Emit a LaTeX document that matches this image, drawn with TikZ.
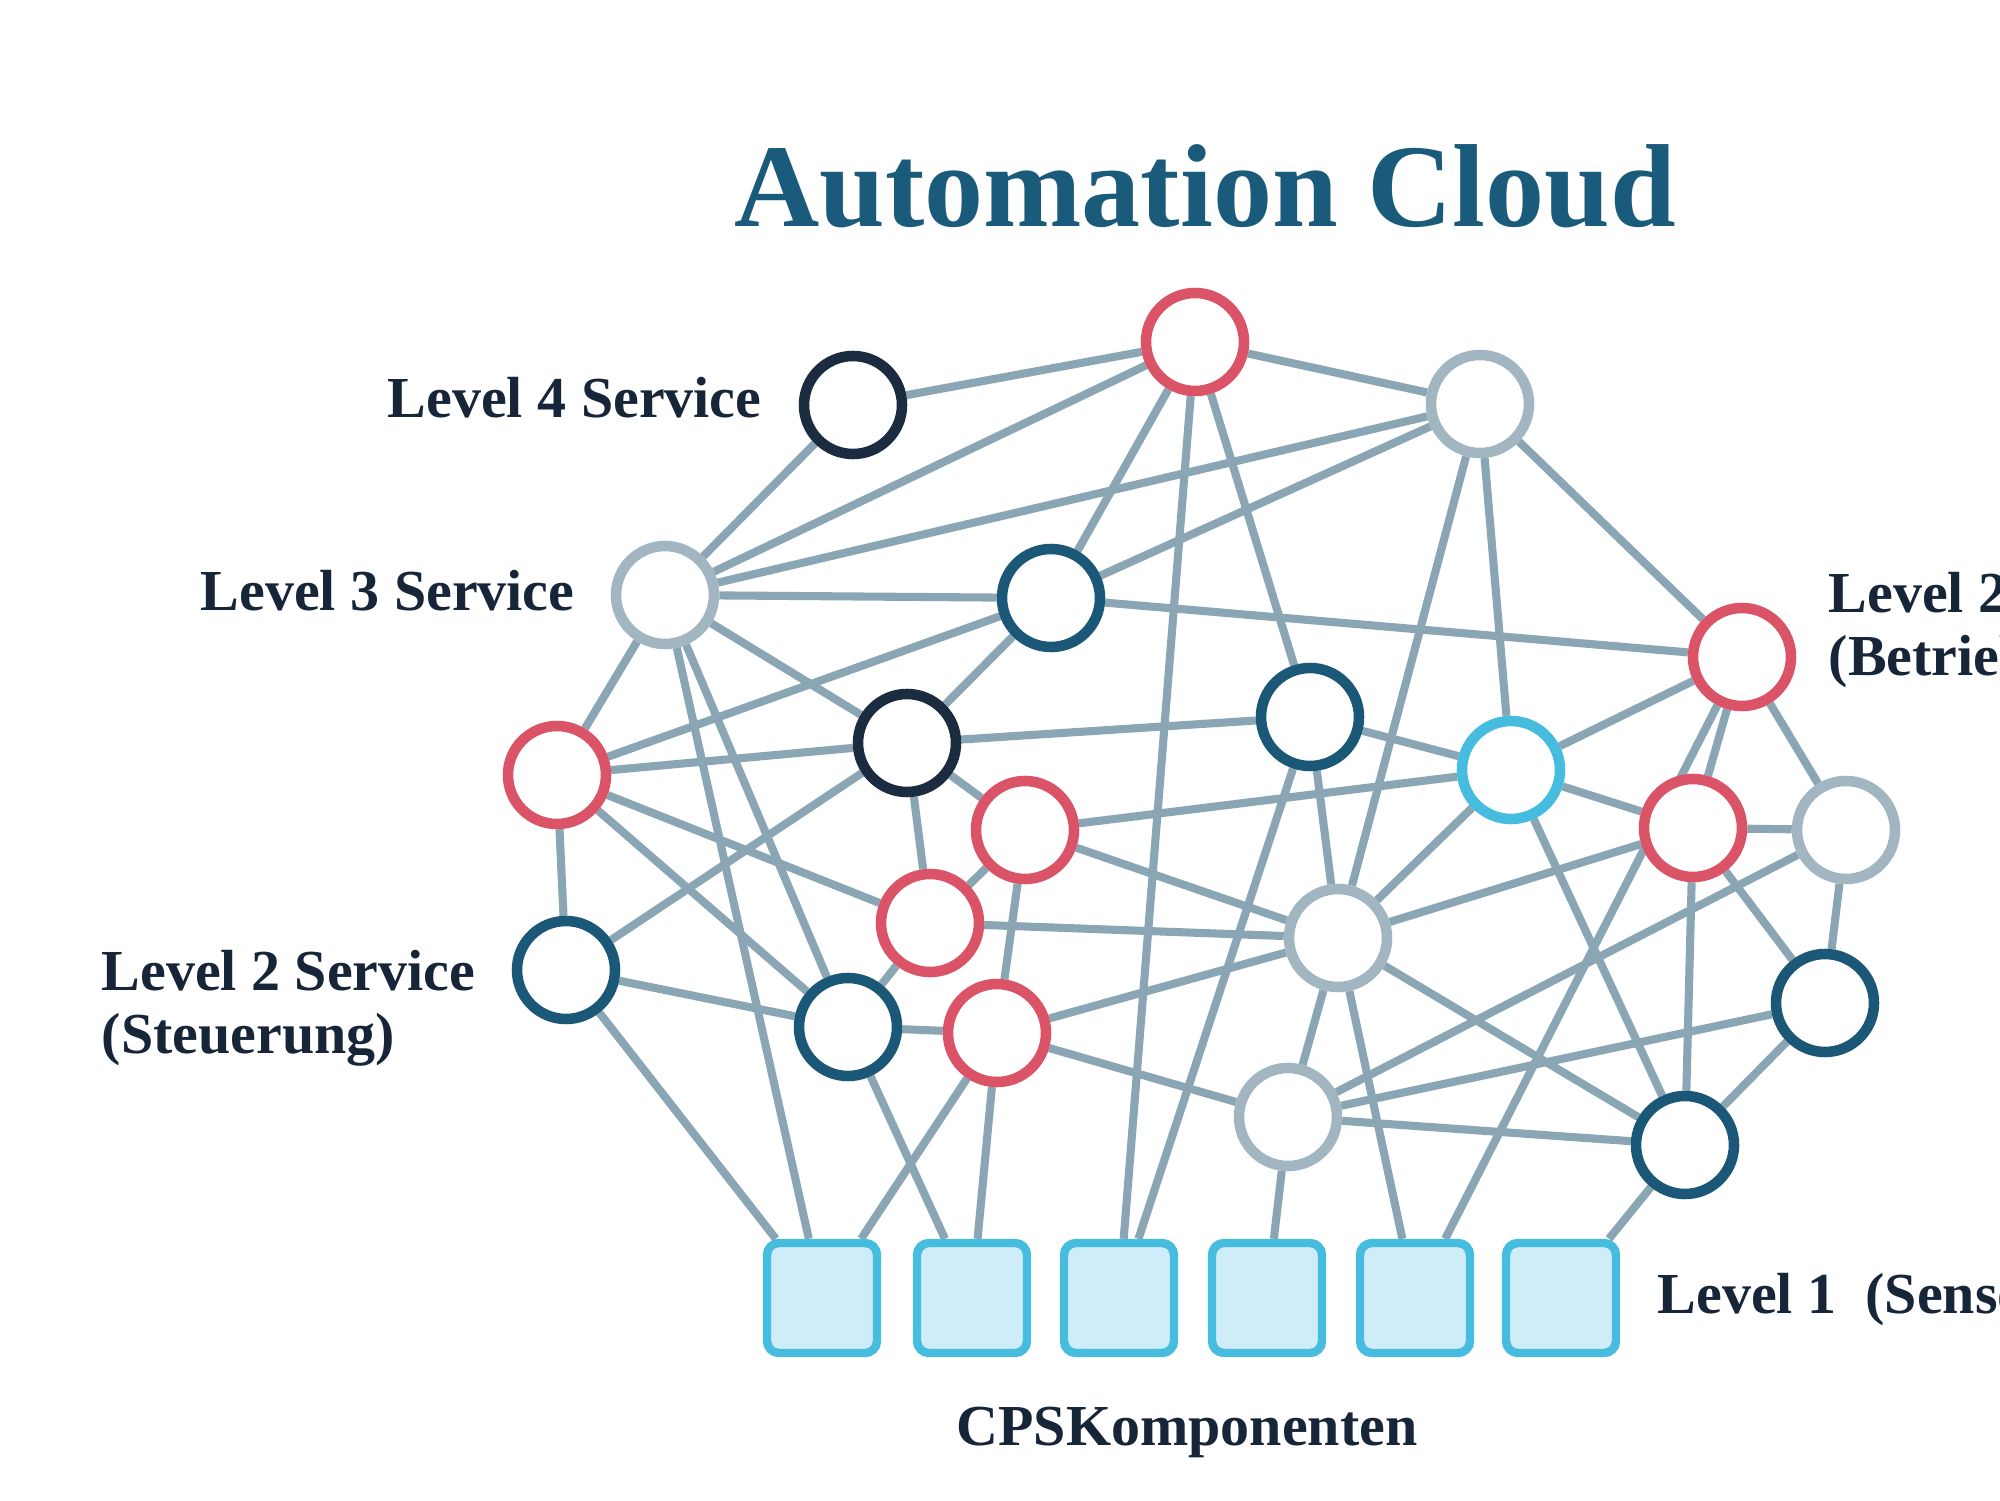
\documentclass[tikz,border=0pt]{standalone}
\usepackage{fontspec}
\setmainfont{Liberation Serif}
\usetikzlibrary{backgrounds}
\definecolor{edgegray}{HTML}{8AA6B4}
\definecolor{navy}{HTML}{1B2B40}
\definecolor{deepteal}{HTML}{1B5877}
\definecolor{rose}{HTML}{DA5367}
\definecolor{pale}{HTML}{A1B6C1}
\definecolor{sky}{HTML}{46BCDF}
\definecolor{skyfill}{HTML}{CFEDF8}
\definecolor{ink}{HTML}{172538}
\definecolor{titleblue}{HTML}{1A5A7B}

\begin{document}
\begin{tikzpicture}[
    svc/.style={circle, draw, fill=white, line width=3pt, minimum size=9.8mm, inner sep=0pt},
    cps/.style={rectangle, draw=sky, fill=skyfill, line width=2.4pt, rounded corners=1.2mm, minimum size=11mm, inner sep=0pt},
    link/.style={edgegray, line width=2.3pt},
    lbl/.style={font=\fontsize{16.5}{18}\selectfont\bfseries, text=ink, inner sep=0pt}
  ]
  \useasboundingbox (0,0) rectangle (20,15);

  \node[font=\fontsize{33.6}{40}\selectfont\bfseries, text=titleblue, anchor=base, inner sep=0pt]
    (title) at (12.05,12.73) {Automation Cloud};

  % services
  \node[svc, draw=navy]     (n4) at (8.53,10.95) {};
  \node[svc, draw=rose]     (tr) at (11.95,11.58) {};
  \node[svc, draw=pale]     (tg) at (14.80,10.96) {};
  \node[svc, draw=pale]     (l3) at (6.65,9.05) {};
  \node[svc, draw=deepteal] (t1) at (10.51,9.02) {};
  \node[svc, draw=rose]     (rb) at (17.42,8.43) {};
  \node[svc, draw=deepteal] (t2) at (13.10,7.83) {};
  \node[svc, draw=navy]     (nv) at (9.07,7.57) {};
  \node[svc, draw=rose]     (rl) at (5.57,7.25) {};
  \node[svc, draw=sky]      (cy) at (15.11,7.30) {};
  \node[svc, draw=rose]     (r1) at (10.25,6.70) {};
  \node[svc, draw=rose]     (r2) at (16.93,6.72) {};
  \node[svc, draw=pale]     (g1) at (18.46,6.70) {};
  \node[svc, draw=rose]     (r3) at (9.30,5.77) {};
  \node[svc, draw=pale]     (gc) at (13.38,5.62) {};
  \node[svc, draw=deepteal] (st) at (5.66,5.30) {};
  \node[svc, draw=deepteal] (t3) at (8.48,4.73) {};
  \node[svc, draw=rose]     (r4) at (9.97,4.67) {};
  \node[svc, draw=deepteal] (t4) at (18.25,4.97) {};
  \node[svc, draw=pale]     (g2) at (12.88,3.83) {};
  \node[svc, draw=deepteal] (t5) at (16.85,3.55) {};

  % CPS components
  \node[cps] (s1) at (8.22,2.02) {};
  \node[cps] (s2) at (9.72,2.02) {};
  \node[cps] (s3) at (11.19,2.02) {};
  \node[cps] (s4) at (12.67,2.02) {};
  \node[cps] (s5) at (14.15,2.02) {};
  \node[cps] (s6) at (15.61,2.02) {};

  \node[lbl, anchor=base east] (lvfour) at (7.62,10.82) {Level 4 Service};
  \node[lbl, anchor=base east] (lvthree) at (5.75,8.90) {Level 3 Service};
  \node[lbl, anchor=west, align=left] (lvsteu) at (1.01,4.92) {Level 2 Service\\(Steuerung)};
  \node[lbl, anchor=west, align=left] (lvbetr) at (18.28,8.70) {Level 2 Service\\(Betrieb)};
  \node[lbl, anchor=base west] (lvone) at (16.57,1.87) {Level 1~ (Sensoren)};
  \node[lbl, anchor=base] (cpslbl) at (11.87,0.55) {CPSKomponenten};

  \begin{pgfonlayer}{background}
    \fill[white] (0,0) rectangle (20,15);
    \foreach \a/\b in {n4/tr, n4/l3,
        tr/l3, tr/t1, tr/t2, tr/tg, tr/s3,
        tg/l3, tg/t1, tg/gc, tg/cy, tg/rb,
        l3/t1, l3/nv, l3/rl, l3/s1, l3/t3,
        t1/rb, t1/rl, t1/nv,
        nv/rl, nv/t2, nv/st, nv/r3, nv/r1,
        rl/r3, rl/t3, rl/st, st/t3, st/s1,
        t3/r3, t3/r4, t3/s2, r3/r1, r3/gc,
        r1/r4, r1/cy, r1/gc,
        r4/gc, r4/g2, r4/s1, r4/s2,
        t2/cy, t2/gc, t2/s3,
        cy/rb, cy/gc, cy/r2, cy/t5,
        rb/r2, rb/s5, rb/g1,
        r2/gc, r2/g1, r2/t5, r2/t4,
        g1/t4, g1/g2, t4/g2, t4/t5,
        gc/g2, gc/t5, gc/s5,
        g2/t5, g2/s4, t5/s6}
      \draw[link] (\a) -- (\b);
  \end{pgfonlayer}
\end{tikzpicture}
\end{document}
